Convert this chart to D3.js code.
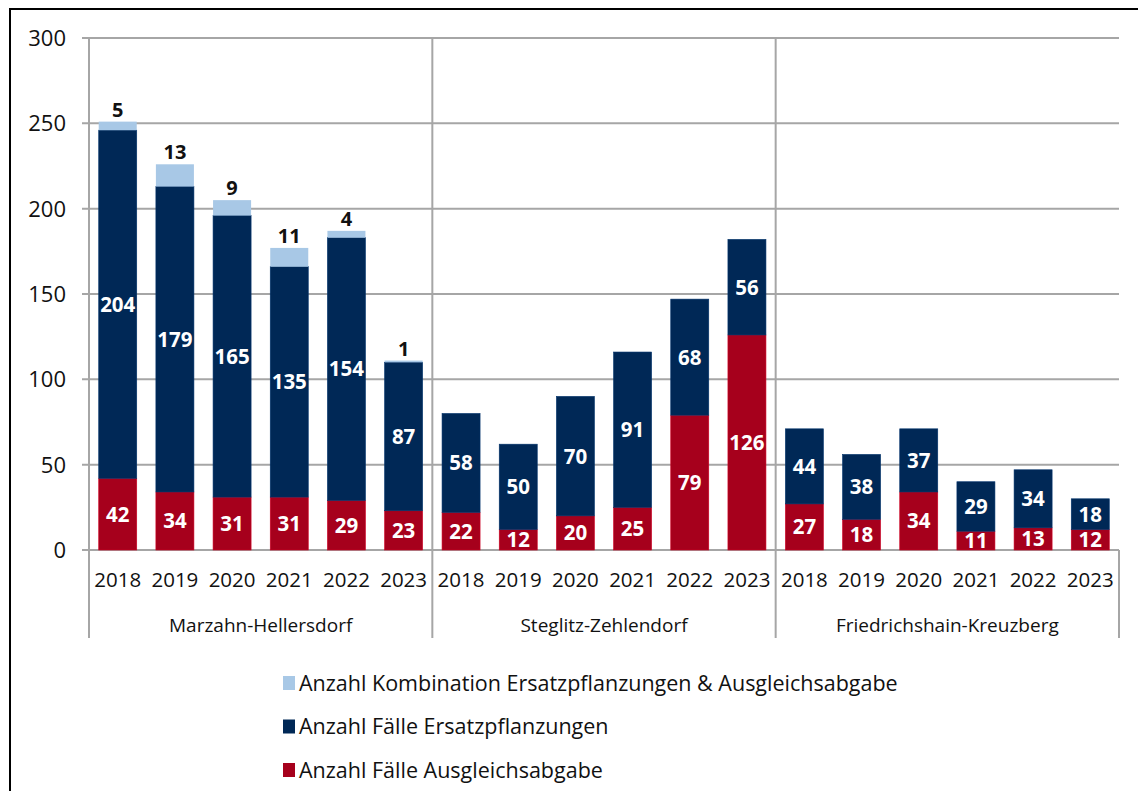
<!DOCTYPE html>
<meta charset="utf-8">
<script src="https://d3js.org/d3.v7.min.js"></script>
<style>
body { margin: 0; background: #fff; font-family: "Open Sans", sans-serif; }
</style>
<body>
<div id="vis"></div>
<script>

var districts = ["Marzahn-Hellersdorf", "Steglitz-Zehlendorf", "Friedrichshain-Kreuzberg"];
var years = ["2018", "2019", "2020", "2021", "2022", "2023"];

// one row per district, one value per year
var ausgleich = [
  [42, 34, 31, 31, 29, 23],
  [22, 12, 20, 25, 79, 126],
  [27, 18, 34, 11, 13, 12]
];
var ersatz = [
  [204, 179, 165, 135, 154, 87],
  [58, 50, 70, 91, 68, 56],
  [44, 38, 37, 29, 34, 18]
];
var kombination = [
  [5, 13, 9, 11, 4, 1],
  [0, 0, 0, 0, 0, 0],
  [0, 0, 0, 0, 0, 0]
];

var seriesNames = [
  "Anzahl Kombination Ersatzpflanzungen & Ausgleichsabgabe",
  "Anzahl Fälle Ersatzpflanzungen",
  "Anzahl Fälle Ausgleichsabgabe"
];
var yTicks = [0, 50, 100, 150, 200, 250, 300];

var colors = { ausgleich: "#a6001c", ersatz: "#002856", kombi: "#a8c8e6" };

var width = 1138, height = 791;
var plotLeft = 89, plotRight = 1119, plotTop = 38, plotBottom = 550;

var svg = d3.select("#vis").append("svg")
  .attr("width", width)
  .attr("height", height);

// outer frame
svg.append("rect")
  .attr("x", 10).attr("y", 9)
  .attr("width", 1140).attr("height", 800)
  .attr("fill", "none").attr("stroke", "#000").attr("stroke-width", 2);

var y = d3.scaleLinear().domain([0, 300]).range([plotBottom, plotTop]);

var x0 = d3.scaleBand().domain(districts).range([plotLeft, plotRight]);
var x1 = d3.scaleBand().domain(years).range([0, x0.bandwidth()]).paddingInner(0.335).paddingOuter(0.17);

// gridlines
svg.selectAll(".grid")
  .data(yTicks)
  .enter().append("line")
  .attr("x1", plotLeft - 7).attr("x2", plotRight)
  .attr("y1", function(d) { return y(d); })
  .attr("y2", function(d) { return y(d); })
  .attr("stroke", "#a6a6a6").attr("stroke-width", 2);

svg.selectAll(".ytick")
  .data(yTicks)
  .enter().append("text")
  .attr("x", 66)
  .attr("y", function(d) { return y(d); })
  .attr("dy", "0.36em")
  .attr("text-anchor", "end")
  .attr("font-size", 22)
  .attr("fill", "#111")
  .text(function(d) { return d; });

// vertical separators
var seps = [plotLeft].concat(districts.slice(1).map(function(d) { return x0(d); }));
svg.selectAll(".sep")
  .data(seps)
  .enter().append("line")
  .attr("x1", function(d) { return d; }).attr("x2", function(d) { return d; })
  .attr("y1", plotTop).attr("y2", 638)
  .attr("stroke", "#a6a6a6").attr("stroke-width", 2);
svg.append("line")
  .attr("x1", plotRight).attr("x2", plotRight)
  .attr("y1", plotBottom).attr("y2", 638)
  .attr("stroke", "#a6a6a6").attr("stroke-width", 2);

// bars
districts.forEach(function(dist, di) {
  var g = svg.append("g").attr("transform", "translate(" + x0(dist) + ",0)");
  years.forEach(function(yr, yi) {
    var a = ausgleich[di][yi], e = ersatz[di][yi], k = kombination[di][yi];
    var bx = x1(yr), bw = x1.bandwidth();
    var segs = [
      { v0: 0, v1: a, c: colors.ausgleich, label: a },
      { v0: a, v1: a + e, c: colors.ersatz, label: e },
      { v0: a + e, v1: a + e + k, c: colors.kombi, label: k }
    ];
    segs.forEach(function(s, si) {
      if (s.v1 - s.v0 <= 0) return;
      g.append("rect")
        .attr("x", bx).attr("width", bw)
        .attr("y", y(s.v1)).attr("height", y(s.v0) - y(s.v1))
        .attr("fill", s.c)
        .attr("stroke", si === 2 ? "none" : d3.color(s.c).brighter(0.6))
        .attr("stroke-width", 0.6);
      if (si < 2) {
        g.append("text")
          .attr("x", bx + bw / 2)
          .attr("y", (y(s.v0) + y(s.v1)) / 2)
          .attr("dy", "0.36em")
          .attr("text-anchor", "middle")
          .attr("font-size", 20.5).attr("font-weight", "bold")
          .attr("fill", "#fff")
          .text(s.label);
      } else {
        g.append("text")
          .attr("x", bx + bw / 2)
          .attr("y", y(s.v1) - 5)
          .attr("text-anchor", "middle")
          .attr("font-size", 20).attr("font-weight", "bold")
          .attr("fill", "#111")
          .text(s.label);
      }
    });
    g.append("text")
      .attr("x", bx + bw / 2)
      .attr("y", 587)
      .attr("text-anchor", "middle")
      .attr("font-size", 20.5)
      .attr("fill", "#111")
      .text(yr);
  });
  svg.append("text")
    .attr("x", x0(dist) + x0.bandwidth() / 2)
    .attr("y", 632)
    .attr("text-anchor", "middle")
    .attr("font-size", 19)
    .attr("fill", "#111")
    .text(dist);
});

// legend
var legendColors = [colors.kombi, colors.ersatz, colors.ausgleich];
var lg = svg.selectAll(".legend")
  .data(seriesNames)
  .enter().append("g")
  .attr("transform", function(d, i) { return "translate(283," + (683 + i * 43.5) + ")"; });
lg.append("rect")
  .attr("x", 0).attr("y", -7)
  .attr("width", 12).attr("height", 14)
  .attr("fill", function(d, i) { return legendColors[i]; });
lg.append("text")
  .attr("x", 16).attr("dy", "0.35em")
  .attr("font-size", 21.5)
  .attr("fill", "#111")
  .text(function(d) { return d; });

</script>
</body>
